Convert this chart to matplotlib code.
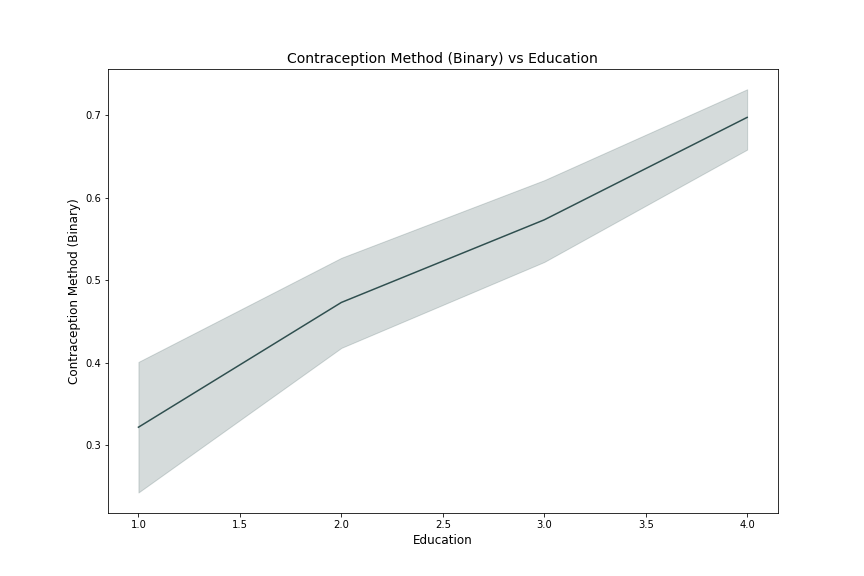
import matplotlib
matplotlib.use("Agg")
import matplotlib.pyplot as plt

education = [1.0, 2.0, 3.0, 4.0]
mean_binary = [0.322, 0.473, 0.573, 0.697]
ci_low = [0.243, 0.418, 0.522, 0.658]
ci_high = [0.401, 0.527, 0.621, 0.731]

fig, ax = plt.subplots(figsize=(12, 8), dpi=72)
ax.plot(education, mean_binary, color="darkslategray")
ax.fill_between(education, ci_low, ci_high, color="darkslategray", alpha=0.2)
ax.set_title("Contraception Method (Binary) vs Education", fontsize=14)
ax.set_xlabel("Education", fontsize=12)
ax.set_ylabel("Contraception Method (Binary)", fontsize=12)
fig.savefig("out.png")
